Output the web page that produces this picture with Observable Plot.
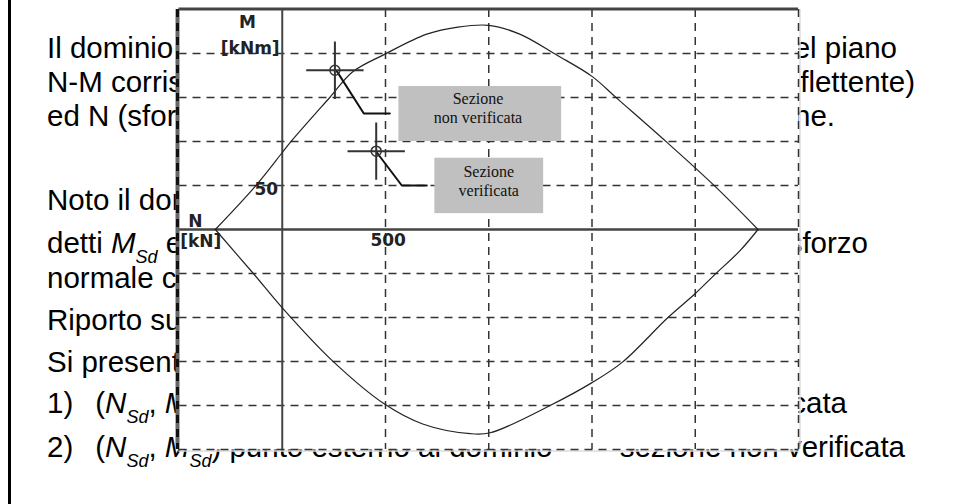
<!DOCTYPE html>
<html>
<head>
<meta charset="utf-8">
<script src="https://cdn.jsdelivr.net/npm/d3@7"></script>
<script src="https://cdn.jsdelivr.net/npm/@observablehq/plot@0.6"></script>
<style>
  html, body { margin: 0; padding: 0; background: white; }
  #page { position: relative; width: 955px; height: 504px; overflow: hidden; background: white;
          font-family: "Liberation Sans", Arial, sans-serif; font-size: 29.5px; color: #000; }
  #edge { position: absolute; left: 8px; top: 0; width: 3px; height: 504px; background: #000; }
  .ln { position: absolute; line-height: 22px; white-space: nowrap; }
  .ln sub { font-size: 18px; vertical-align: -10px; line-height: 0; font-style: italic; }
  .gap { display: inline-block; width: 22px; }
  .arr { position: relative; top: -8px; }
  #chart { position: absolute; left: 0; top: 0; }
</style>
</head>
<body>
<div id="page">
  <div id="edge"></div>
  <div id="text"></div>
  <div id="chart"></div>
</div>
<script>
// ---- Chart data (N in kN, M in kNm) ----
// Upper branch of the N-M interaction domain
const upperN = [-324, -131, 0, 39, 230, 340, 495, 700, 850, 1000, 1150, 1331, 1500, 1621, 1863, 2096, 2304];
const upperM = [0, 49, 87.5, 99, 150, 179, 199, 222, 230, 232, 222, 198, 174, 149, 99, 49, 0];
// Lower branch
const lowerN = [-324, -140, 0, 242, 499, 680, 910, 1007, 1297, 1500, 1646, 1868, 1999, 2096, 2217, 2304];
const lowerM = [0, -50, -89, -149, -199, -221, -232, -231, -200, -174, -151, -100, -73, -51, -24, 0];

// Design points (N_Sd, M_Sd)
const pointN = [255, 455];
const pointM = [181, 89];
const pointLabel = ["Sezione\nnon verificata", "Sezione\nverificata"];

// Callout boxes (data units)
const boxN1 = [565, 739];
const boxN2 = [1353, 1266];
const boxM1 = [100, 18];
const boxM2 = [162.5, 81];
const boxTextN = [948, 1000];
const boxTextM = [138.6, 55.7];

// Leader lines from point to box
const leaderN = [[264, 395, 521], [458, 579, 700]];
const leaderM = [[180, 131.8, 131.8], [87.5, 50, 50]];

// Grid and axis labels
const gridN = [500, 1000, 1500, 2000, 2500];
const gridM = [-200, -150, -100, -50, 50, 100, 150, 200];
const tickLabels = ["500", "50"];
const tickN = [513, -77];
const tickM = [-12.5, 45];
const axisLabels = ["M", "[kNm]", "N", "[kN]"];
const axisLabelN = [-169, -155, -421, -395];
const axisLabelM = [235, 206, 9, -14];

// ---- Build tables ----
const upper = upperN.map((n, i) => ({n, m: upperM[i]}));
const lower = lowerN.map((n, i) => ({n, m: lowerM[i]}));
const points = pointN.map((n, i) => ({n, m: pointM[i], label: pointLabel[i]}));
const boxes = boxN1.map((n1, i) => ({n1, n2: boxN2[i], m1: boxM1[i], m2: boxM2[i],
  tn: boxTextN[i], tm: boxTextM[i], label: pointLabel[i]}));
const leaders = leaderN.flatMap((ns, k) => ns.map((n, i) => ({k, n, m: leaderM[k][i]})));
const ticks = tickLabels.map((t, i) => ({t, n: tickN[i], m: tickM[i]}));
const alabels = axisLabels.map((t, i) => ({t, n: axisLabelN[i], m: axisLabelM[i]}));

const dash = "8,6";
const gridColor = "#333";
const labelFont = "DejaVu Sans, sans-serif";

const chart = Plot.plot({
  width: 955,
  height: 504,
  marginLeft: 178.5,
  marginRight: 157,
  marginTop: 9,
  marginBottom: 55,
  style: {background: "transparent", overflow: "visible"},
  x: {domain: [-500, 2500], axis: null},
  y: {domain: [-250, 250], axis: null},
  marks: [
    Plot.frame({fill: "white", stroke: null}),
    // light outer edge on right / bottom
    Plot.ruleX([2500], {stroke: "#ddd", strokeWidth: 1.5, dx: 1.5}),
    Plot.ruleY([-250], {stroke: "#ddd", strokeWidth: 1.5, dy: 1.5}),
    // dashed grid
    Plot.ruleX(gridN, {stroke: gridColor, strokeWidth: 1.5, strokeDasharray: dash}),
    Plot.ruleY(gridM.concat([-250]), {stroke: gridColor, strokeWidth: 1.5, strokeDasharray: dash}),
    // axes
    Plot.ruleX([0], {stroke: "#444", strokeWidth: 2}),
    Plot.ruleY([0], {stroke: "#444", strokeWidth: 2.5}),
    // frame top / left
    Plot.ruleY([250], {stroke: "#444", strokeWidth: 3, dy: -0.5}),
    Plot.ruleX([-500], {stroke: "#666", strokeWidth: 4, dx: -1.5}),
    Plot.ruleX([-500], {stroke: "#111", strokeWidth: 3, dx: -1.5, strokeDasharray: dash}),
    // domain curve
    Plot.line(upper, {x: "n", y: "m", stroke: "#222", strokeWidth: 1.2, curve: "catmull-rom"}),
    Plot.line(lower, {x: "n", y: "m", stroke: "#222", strokeWidth: 1.2, curve: "catmull-rom"}),
    // callout boxes
    Plot.rect(boxes, {x1: "n1", x2: "n2", y1: "m1", y2: "m2", fill: "#c0c0c0"}),
    Plot.text(boxes, {x: "tn", y: "tm", text: "label", fontFamily: "Liberation Serif, Times New Roman, serif",
      fontSize: 16, lineHeight: 1.2, fill: "#111"}),
    // leader lines
    Plot.line(leaders, {x: "n", y: "m", z: "k", stroke: "#111", strokeWidth: 2}),
    // point markers
    Plot.dot(points, {x: "n", y: "m", symbol: "plus", r: 18.5, stroke: "#333", strokeWidth: 2}),
    Plot.dot(points, {x: "n", y: "m", r: 5, stroke: "#333", strokeWidth: 1.5}),
    // labels
    Plot.text(ticks, {x: "n", y: "m", text: "t", fontFamily: labelFont, fontWeight: "bold", fontSize: 17, fill: "#222"}),
    Plot.text(alabels, {x: "n", y: "m", text: "t", fontFamily: labelFont, fontWeight: "bold", fontSize: 17, fill: "#222"})
  ]
});
document.getElementById("chart").appendChild(chart);

// ---- Slide text partly hidden behind the chart ----
const sd = (v) => `<i>${v}</i><sub>Sd</sub>`;
const lines = [
  {b: 58, left: "Il dominio di", right: "nel piano", end: 897},
  {b: 92, left: "N-M corrispondente", right: "flettente)", end: 915},
  {b: 126, left: "ed N (sforzo", right: "sezione.", end: 835},
  {b: 210, left: "Noto il dom"},
  {b: 253, left: `detti ${sd("M")} e`, right: "sforzo", end: 868},
  {b: 288, left: "normale che"},
  {b: 330, left: "Riporto sul"},
  {b: 372, left: "Si presentano"},
  {b: 413, left: `1)<span class="gap"></span>(${sd("N")}, ${sd("M")})`, right: "verificata", end: 847},
  {b: 457, left: `2)<span class="gap"></span>(${sd("N")}, ${sd("M")}) punto esterno al dominio`, right: `<span class="arr">→</span>&nbsp;&nbsp;&nbsp;sezione non verificata`, end: 905}
];
const host = document.getElementById("text");
const fs = 29.5, lh = 22;
const asc = (lh - 1.117 * fs) / 2 + 0.905 * fs;
for (const l of lines) {
  const a = document.createElement("div");
  a.className = "ln";
  a.style.left = "47px";
  a.style.top = (l.b - asc) + "px";
  a.innerHTML = l.left;
  host.appendChild(a);
  if (l.right) {
    const r = document.createElement("div");
    r.className = "ln";
    r.style.right = (955 - l.end) + "px";
    r.style.top = (l.b - asc) + "px";
    r.innerHTML = l.right;
    host.appendChild(r);
  }
}
</script>
</body>
</html>
